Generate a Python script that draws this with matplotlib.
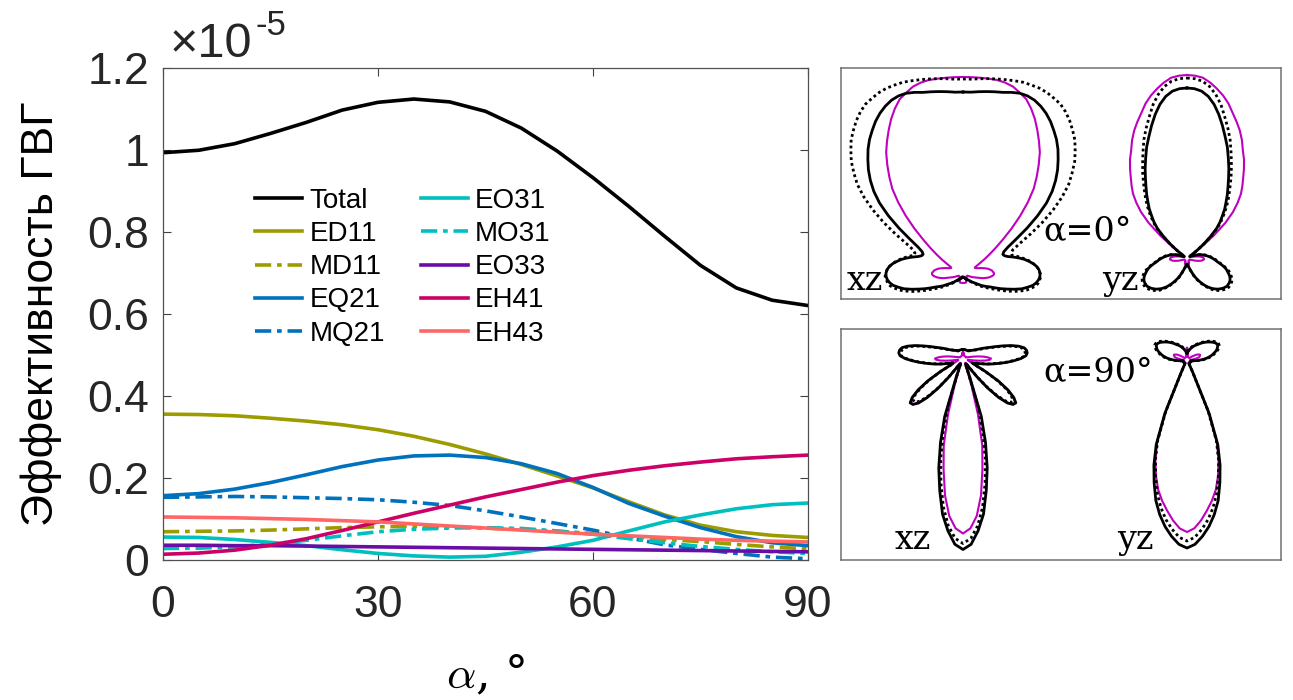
import numpy as np
import matplotlib.pyplot as plt

plt.rcParams['font.family'] = ['Liberation Sans', 'DejaVu Sans']

# SHG efficiency (x1e-5) vs incidence angle, total and multipole contributions
alpha = np.arange(0, 91, 5)
total = [0.994, 1.000, 1.016, 1.041, 1.068, 1.098, 1.117, 1.125, 1.118, 1.095,
         1.054, 0.998, 0.933, 0.863, 0.790, 0.719, 0.664, 0.634, 0.621]
ed11 = [0.356, 0.355, 0.352, 0.346, 0.339, 0.330, 0.318, 0.302, 0.282, 0.259,
        0.233, 0.205, 0.176, 0.142, 0.110, 0.085, 0.069, 0.060, 0.055]
md11 = [0.069, 0.070, 0.071, 0.073, 0.076, 0.079, 0.081, 0.082, 0.081, 0.078,
        0.074, 0.070, 0.065, 0.058, 0.050, 0.045, 0.038, 0.032, 0.027]
eq21 = [0.157, 0.162, 0.173, 0.189, 0.208, 0.228, 0.244, 0.254, 0.256, 0.250,
        0.235, 0.211, 0.177, 0.138, 0.107, 0.079, 0.057, 0.042, 0.035]
mq21 = [0.153, 0.154, 0.155, 0.154, 0.152, 0.150, 0.147, 0.141, 0.133, 0.120,
        0.105, 0.089, 0.073, 0.054, 0.037, 0.026, 0.016, 0.007, 0.003]
eo31 = [0.056, 0.055, 0.050, 0.043, 0.035, 0.025, 0.016, 0.010, 0.007, 0.009,
        0.019, 0.032, 0.048, 0.071, 0.093, 0.110, 0.125, 0.135, 0.139]
mo31 = [0.028, 0.029, 0.032, 0.039, 0.048, 0.059, 0.069, 0.075, 0.078, 0.079,
        0.077, 0.071, 0.063, 0.052, 0.042, 0.033, 0.026, 0.020, 0.016]
eo33 = [0.036, 0.036, 0.035, 0.035, 0.034, 0.033, 0.032, 0.031, 0.030, 0.029,
        0.028, 0.027, 0.026, 0.025, 0.024, 0.023, 0.022, 0.021, 0.020]
eh41 = [0.014, 0.017, 0.024, 0.036, 0.052, 0.072, 0.093, 0.114, 0.134, 0.154,
        0.172, 0.190, 0.206, 0.219, 0.230, 0.239, 0.247, 0.252, 0.256]
eh43 = [0.105, 0.104, 0.103, 0.101, 0.099, 0.096, 0.093, 0.088, 0.083, 0.078,
        0.073, 0.068, 0.063, 0.059, 0.055, 0.051, 0.048, 0.046, 0.044]

labels = ['Total', 'ED11', 'MD11', 'EQ21', 'MQ21', 'EO31', 'MO31', 'EO33', 'EH41', 'EH43']
curves = [total, ed11, md11, eq21, mq21, eo31, mo31, eo33, eh41, eh43]
colors = ['#000000', '#9c9c00', '#9c9c00', '#0072bd', '#0072bd',
          '#00bfbf', '#00bfbf', '#6a0ca6', '#cc0066', '#ff6666']
dashdot = (0, (4.5, 1.6, 1.3, 1.6))
styles = ['-', '-', dashdot, '-', dashdot, '-', dashdot, '-', '-', '-']

# far-field patterns: radius vs polar angle from +z, 0..180 deg step 2.5 (mirror symmetric)
theta = np.arange(0, 180.1, 2.5)
xz0_solid = [181, 181, 182, 183, 184, 185, 187, 188.5,
             188.5, 187, 184, 180, 175, 169, 163, 156,
             148, 140, 131, 121, 109, 94, 78, 63,
             52, 46, 44, 45, 48, 53, 58, 63,
             67, 71, 74, 76, 77, 77, 76, 74,
             71, 66, 61, 54, 47, 41, 35, 30,
             27, 24, 21, 18, 16, 14, 13, 11,
             10, 9, 8, 8, 7, 7, 6, 6,
             5, 5, 5, 5, 4, 4, 4, 4, 4]
xz0_dotted = [194, 194, 195, 196, 197, 198, 199, 200,
              200, 200, 199, 197, 195, 191, 186, 180,
              174, 166, 158, 148, 138, 125, 110, 94,
              78, 64, 55, 52, 52, 56, 60, 64,
              68, 71, 74, 76, 77, 78, 77, 76,
              74, 70, 66, 60, 54, 47, 41, 35,
              31, 27, 24, 21, 18, 16, 14, 12,
              11, 10, 9, 8, 7, 7, 6, 6,
              5, 5, 5, 5, 4, 4, 4, 4, 4]
xz0_magenta = [196, 196, 196, 196, 196, 195, 193, 189,
               185, 178, 170, 161, 152, 143, 132, 121,
               110, 96, 81, 66, 52, 41, 32, 25,
               19, 15, 13, 13, 14, 16, 19, 22,
               25, 27, 29, 30, 31, 31, 30, 28,
               26, 23, 20, 16, 13, 11, 9, 7,
               6, 5, 5, 5, 5, 5, 5, 5,
               5, 6, 6, 7, 7, 8, 8, 9,
               9, 10, 10, 10, 10, 10, 10, 10, 10]
yz0_solid = [170, 169.5, 167.5, 163, 156, 147, 137, 127,
             118, 108, 99, 90, 82, 75, 68, 62,
             55, 49, 42, 32, 22, 13, 7, 4,
             3, 3, 4, 5, 7, 10, 13, 15,
             17, 19, 21, 23, 25, 27, 29, 31,
             34, 37, 40, 42, 44, 46, 47.5, 48.5,
             49, 49, 49, 48, 47, 45.5, 44, 42,
             40, 37.5, 35, 32, 29, 26, 23, 20,
             17, 14, 12, 10, 9, 8, 7, 6, 6]
yz0_dotted = [180, 179.5, 177.5, 173, 166, 157, 146, 136,
              126, 115, 105, 96, 87, 79, 72, 65,
              58, 51, 44, 34, 23, 14, 7, 4,
              3, 3, 4, 5, 7, 10, 13, 16,
              18, 20, 22, 24, 26, 28, 30, 32,
              35, 38, 41, 44, 46, 48, 49.5, 50.5,
              51, 51, 51, 50, 49, 47.5, 46, 44,
              42, 39, 36, 33, 30, 27, 24, 21,
              18, 15, 12, 10, 9, 8, 7, 6, 6]
yz0_magenta = [183, 182.5, 181, 177, 172, 166.5, 160, 152,
               145, 138, 130, 121, 114, 106, 98, 91,
               84, 75, 65, 52, 35, 18, 10, 8,
               7, 6, 5, 5, 5, 5, 5, 7,
               9, 12, 14, 16, 16.5, 17, 17, 16,
               15, 13, 11, 9, 7, 5, 4, 3,
               3, 3, 3, 3, 3, 3, 3, 3,
               3, 3, 3, 3, 3, 4, 4, 5,
               5, 6, 6, 7, 7, 8, 8, 8, 8]
xz90_solid = [9, 9, 9, 9, 9, 9, 9, 9,
              9, 9, 9, 9, 9, 9, 9.5, 10,
              10, 11, 11.5, 12, 13, 14, 15, 17,
              19, 22, 25, 29, 35, 42, 50, 57,
              62, 64, 64.5, 63, 58, 51, 44, 37,
              31, 26, 21, 17, 14, 12, 11, 13,
              26, 42, 55, 64, 69, 68, 63, 53,
              39, 24, 12, 7, 6, 6, 6, 8,
              20, 61, 87, 112, 134, 157, 173, 186, 191]
xz90_dotted = [9, 9, 9, 9, 9, 9, 9, 9,
               9, 9, 9, 9, 9, 9, 9.5, 10,
               10, 11, 11.5, 12, 13, 14, 15, 16,
               18, 21, 24, 28, 33, 40, 48, 55,
               60, 62, 62.5, 62, 57, 50, 43, 36,
               30, 25, 20, 16, 13, 11, 10, 12,
               25, 40, 52, 61, 65, 65, 60, 50,
               37, 23, 12, 7, 6, 6, 6, 7,
               16, 50, 77, 103, 127, 150, 168, 180, 185]
xz90_magenta = [6, 6, 6, 5, 5, 4, 4, 3,
                3, 3, 3, 3, 3, 3, 3, 3,
                3, 3, 3, 3, 3, 3, 3, 3,
                3, 3, 3, 3, 3, 4, 5, 7,
                11, 16, 21, 25, 28, 27, 23, 17,
                11, 7, 5, 5, 5, 6, 8, 11,
                25, 41, 54, 63, 68, 68, 62, 52,
                38, 23, 11, 6, 5, 5, 5, 6,
                10, 28, 58, 89, 112, 138, 158, 170, 175]
yz90_solid = [7, 7.5, 8, 8.5, 9, 10, 11, 12,
              13, 14, 15, 16, 17, 18, 19, 20.5,
              22, 23.5, 25, 26.5, 28, 29.5, 31, 32.5,
              33.5, 34, 34, 33, 32, 30.5, 28.5, 26.5,
              24.5, 22, 19.5, 16.5, 13.5, 10.5, 8, 6,
              5, 4, 4, 4, 4, 4, 4, 4,
              4, 4, 4, 4, 4, 4, 4, 4,
              4, 4, 4, 4, 4, 5, 14, 58,
              90, 110, 127, 144, 157, 168, 177, 184.5, 188]
yz90_dotted = [8, 8.5, 9, 9.5, 10, 11, 12, 13,
               14, 15, 16, 17, 18, 19, 20, 21.5,
               23, 24.5, 26, 27.5, 29.5, 31, 32.5, 34,
               35, 35.5, 35.5, 34.5, 33.5, 32, 30, 28,
               26, 23.5, 21, 18, 15, 12, 9, 6,
               5, 4, 4, 4, 4, 4, 4, 4,
               4, 4, 4, 4, 4, 4, 4, 4,
               4, 4, 4, 4, 4, 5, 13, 55,
               86, 105, 121, 137, 150, 161, 170, 177.5, 181]
yz90_magenta = [12, 11.5, 10, 8, 6, 4, 3, 3,
                3, 3, 3, 3, 3, 3, 3, 3,
                3, 3, 3, 3, 3, 4, 6, 8,
                10, 12, 13, 14, 14, 13.5, 13, 12,
                10, 8, 6, 4, 3, 3, 3, 3,
                3, 3, 3, 3, 3, 3, 3, 3,
                3, 3, 3, 3, 3, 3, 3, 3,
                3, 3, 3, 3, 3, 4, 13, 56,
                87, 105, 120, 133, 143, 152, 161, 168.5, 172]


def closed_curve(r):
    th = np.deg2rad(np.concatenate([theta, 360 - theta[::-1][1:]]))
    r = np.asarray(r, dtype=float)
    rr = np.concatenate([r, r[::-1][1:]])
    return rr * np.sin(th), rr * np.cos(th)


def draw_pattern(ax, cx, cy, solid, dotted, magenta):
    x, y = closed_curve(magenta)
    ax.plot(cx + x, cy + y, color='#bf00bf', lw=1.5)
    x, y = closed_curve(solid)
    ax.plot(cx + x, cy + y, color='k', lw=2.0)
    x, y = closed_curve(dotted)
    ax.plot(cx + x, cy + y, color='k', lw=2.0, ls=(0, (1, 1.1)))


W, H = 1293, 700
fig = plt.figure(figsize=(W / 100, H / 100), dpi=100)

ax = fig.add_axes([163 / W, 140 / H, 645 / W, 491.7 / H])
for lab, vals, col, ls in zip(labels, curves, colors, styles):
    ax.plot(alpha, vals, color=col, ls=ls, lw=2.6, label=lab)

ax.set_xlim(0, 90)
ax.set_ylim(0, 1.2)
ax.set_xticks([0, 30, 60, 90])
ax.set_yticks(np.arange(0, 1.21, 0.2))
ax.set_yticklabels(['0', '0.2', '0.4', '0.6', '0.8', '1', '1.2'])
ax.tick_params(direction='in', length=6, width=0.8, top=True, right=True,
               labelsize=32, colors='#404040', labelcolor='#262626')
ax.tick_params(axis='x', pad=18)
ax.tick_params(axis='y', pad=10)
for s in ax.spines.values():
    s.set_color('#505050')
    s.set_linewidth(0.9)

ax.set_ylabel('Эффективность ГВГ', fontsize=32, labelpad=18)
ax.set_xlabel(r'$\alpha$, °', fontsize=33, family='DejaVu Serif',
              math_fontfamily='cm', va='baseline')
ax.xaxis.set_label_coords(0.5, -128 / 491.7)

# exponent of the y scale
ax.text(0.011, 1.023, '×10', transform=ax.transAxes,
        fontsize=35, color='#262626', va='baseline', ha='left')
ax.text(0.143, 1.0677, '-5', transform=ax.transAxes,
        fontsize=25, color='#262626', va='baseline', ha='left')

ax.legend(ncol=2, frameon=False, loc='upper left', bbox_to_anchor=(0.143, 0.757),
          fontsize=20, handlelength=1.7, handletextpad=0.25, columnspacing=1.3,
          labelspacing=0.26, borderpad=0, borderaxespad=0)

# angular diagrams, panel coordinates in pixels
panels = [
    (68, 299, [(122, 26, xz0_solid, xz0_dotted, xz0_magenta),
               (346, 41, yz0_solid, yz0_dotted, yz0_magenta)],
     [(6, 9, 'xz'), (261, 9, 'yz'), (202, 59, 'α=0°')]),
    (329, 560, [(122, 201.5, xz90_solid, xz90_dotted, xz90_magenta),
                (346, 200, yz90_solid, yz90_dotted, yz90_magenta)],
     [(54, 11, 'xz'), (276, 11, 'yz'), (202, 179, 'α=90°')]),
]
for top, bottom, patterns, texts in panels:
    pw, ph = 1281 - 841, bottom - top
    pax = fig.add_axes([841 / W, (H - bottom) / H, pw / W, ph / H])
    pax.set_xlim(0, pw)
    pax.set_ylim(0, ph)
    pax.set_xticks([])
    pax.set_yticks([])
    for s in pax.spines.values():
        s.set_color('#707070')
        s.set_linewidth(1.1)
    for cx, cy, so, do, ma in patterns:
        draw_pattern(pax, cx, cy, so, do, ma)
    for tx, ty, t in texts:
        pax.text(tx, ty, t, fontsize=24, family='DejaVu Serif', va='baseline', ha='left')

fig.savefig('out.png', dpi=100)
